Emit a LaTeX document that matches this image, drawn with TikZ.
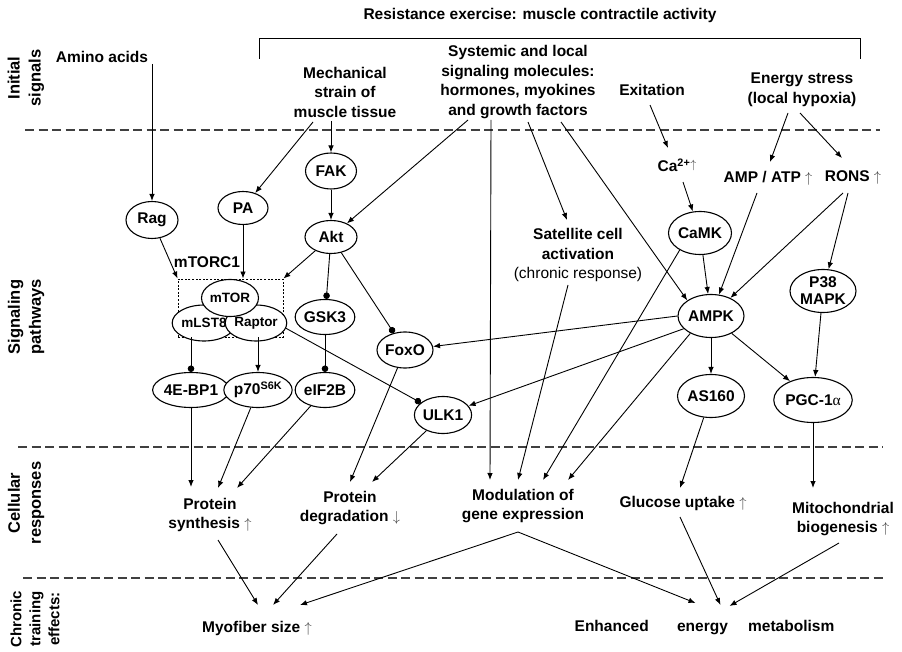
\documentclass[tikz,border=0pt]{standalone}
\usepackage{fontspec}
\setmainfont{Liberation Sans}
\newfontfamily\grfont{Liberation Serif}
\usetikzlibrary{shapes.geometric,arrows.meta,calc}

% thin up/down arrows used after the bold labels
\newcommand\upar{{\color{black!75}$\uparrow$}}
\newcommand\downar{{\color{black!75}$\downarrow$}}

\begin{document}
\begin{tikzpicture}[x=1pt,y=-1pt,
  txt/.style={font=\bfseries\fontsize{15.5}{19.5}\selectfont, align=center, inner sep=1pt},
  side/.style={font=\bfseries\fontsize{16.5}{21}\selectfont, align=center, inner sep=1pt, rotate=90},
  oval/.style={ellipse, draw, line width=1.1pt, inner sep=0pt, fill=white,
    font=\bfseries\fontsize{15.5}{17}\selectfont, align=center},
  small/.style={font=\bfseries\fontsize{13.5}{16}\selectfont},
  sz/.style 2 args={minimum width=#1pt, minimum height=#2pt},
  arr/.style={-{Latex[length=7pt,width=5.5pt]}, line width=0.9pt},
  inh/.style={-{Circle[length=6.5pt]}, line width=0.9pt},
  sep/.style={dash pattern=on 9pt off 4.5pt, line width=1.1pt, black!75}]

\useasboundingbox (0,0) rectangle (902,652);

% level separators
\draw[sep] (25,130) -- (880,130);
\draw[sep] (18,447) -- (883,447);
\draw[sep] (23,578) -- (883,578);

% level labels
\node[side] (l1) at (26,78) {Initial\\signals};
\node[side] (l2) at (26,317) {Signaling\\pathways};
\node[side] (l3) at (26,503) {Cellular\\responses};
\node[side, font=\bfseries\fontsize{15}{19}\selectfont] (l4) at (35,619) {Chronic\\training\\effects:};

% exercise bracket
\node[txt] (title) at (540,15) {Resistance exercise: muscle contractile activity};
\draw[line width=0.9pt] (259,59) -- (259,38) -- (860,38) -- (860,59);

% initial signals
\node[txt] (amino) at (102,57) {Amino acids};
\node[txt] (mech) at (345,92) {Mechanical\\strain of\\muscle tissue};
\node[txt] (sys) at (518,82) {Systemic and local\\signaling molecules:\\hormones, myokines\\and growth factors};
\node[txt] (exc) at (652,90) {Exitation};
\node[txt] (energy) at (802,90) {Energy stress\\(local hypoxia)};

% signaling pathways
\node[txt] (ca) at (677,165) {Ca\textsuperscript{2+}\raisebox{3pt}{\fontsize{12}{12}\selectfont\upar}};
\node[txt] (ampatp) at (768,178) {AMP / ATP \upar};
\node[txt] (rons) at (853,177) {RONS \upar};
\node[txt] (sat) at (578,255) {Satellite cell\\activation\\\mdseries(chronic response)};

\node[oval, sz={52}{37}] (rag) at (152,220) {Rag};
\node[oval, sz={50}{33}] (pa) at (243,208) {PA};
\node[oval, sz={51}{36}] (fak) at (331,171) {FAK};
\node[oval, sz={52}{33}] (akt) at (331,237) {Akt};

% mTORC1 complex
\node[txt] (mtorc) at (207,262) {mTORC1};
\node[draw, line width=0.9pt, dash pattern=on 2pt off 1.6pt, inner sep=0pt,
  minimum width=105pt, minimum height=58pt] (cplx) at (230.5,308) {};
\node[oval, small, sz={54}{36}] (mlst) at (204,323) {mLST8};
\node[oval, small, sz={54}{36}] (raptor) at (256,323) {Raptor};
\node[oval, small, sz={57}{37}] (mtor) at (230,298) {mTOR};

\node[oval, sz={51}{35}] (gsk) at (325,317) {GSK3};
\node[oval, sz={57}{35}] (bp1) at (191,390) {4E-BP1};
\node[oval, sz={48}{35}] (p70) at (258,390) {p70\textsuperscript{S6K}};
\node[oval, sz={50}{35}] (eif) at (325,390) {eIF2B};
\node[oval, sz={50}{36}] (foxo) at (405,350) {FoxO};
\node[oval, sz={50}{37}] (ulk) at (443,415) {ULK1};

\node[oval, sz={63}{43}] (camk) at (700,233) {CaMK};
\node[oval, sz={66}{43}] (ampk) at (711,316) {AMPK};
\node[oval, sz={66}{43}] (p38) at (823,291) {P38\\MAPK};
\node[oval, sz={66}{43}] (as160) at (711,396) {AS160};
\node[oval, sz={67}{45}] (pgc) at (813,400) {PGC-1{\grfont\mdseries α}};

% cellular responses
\node[txt] (psyn) at (210,515) {Protein\\synthesis \upar};
\node[txt] (pdeg) at (350,508) {Protein\\degradation \downar};
\node[txt] (gene) at (523,506) {Modulation of\\gene expression};
\node[txt] (gluc) at (683,503) {Glucose uptake \upar};
\node[txt] (mito) at (843,519) {Mitochondrial\\biogenesis \upar};

% chronic training effects
\node[txt] (myo) at (257,628) {Myofiber size \upar};
\node[txt] (enh) at (704.5,628) {Enhanced\hspace{24pt} energy\hspace{16pt} metabolism};

% connectors: initial signals
\draw[arr] (rag |- amino.south) -- (rag);
\draw[arr] ($(mech)+(-32,30)$) -- (pa);
\draw[arr] ($(mech)+(-14,29)$) -- (fak);
\draw[arr] ($(sys)+(-50,38)$) -- (akt);
\draw[arr] ($(sys)+(-27,38)$) -- ($(gene)+(-33,-26)$);
\draw[arr] ($(sys)+(10,40)$) -- ($(sat)+(-11,-35)$);
\draw[arr] ($(sys)+(43,40)$) -- (ampk.north west);
\draw[arr] ($(exc)+(-2,15)$) -- ($(ca)+(-9,-17)$);
\draw[arr] ($(energy)+(-14,23)$) -- ($(ampatp)+(2,-16)$);
\draw[arr] ($(energy)+(-2,23)$) -- ($(rons)+(-11,-19)$);

% connectors: mTOR branch
\draw[arr] (fak) -- (akt);
\draw[arr] (rag) -- (cplx.north west);
\draw[arr] (pa) -- (pa |- cplx.north);
\draw[arr] (akt) -- (cplx.north east);
\draw[inh] (bp1 |- cplx.south) -- (bp1);
\draw[arr] (p70 |- cplx.south) -- (p70);
\draw[inh] (akt) -- (gsk);
\draw[inh] (gsk) -- (eif);
\draw[inh] (akt) -- (foxo);
\draw[inh] (raptor.-10) -- (ulk);
\draw[arr] (bp1) -- ($(psyn)+(-19,-28)$);
\draw[arr] (p70) -- ($(psyn)+(8,-27)$);
\draw[arr] (eif) -- ($(psyn)+(27,-27)$);
\draw[arr] (foxo) -- ($(pdeg)+(0,-26)$);
\draw[arr] (ulk) -- ($(pdeg)+(22,-26)$);

% connectors: AMPK branch
\draw[arr] ($(ca)+(6,17)$) -- (camk);
\draw[arr] ($(ampatp)+(-11,15)$) -- (ampk);
\draw[arr] ($(rons)+(-10,16)$) -- (ampk);
\draw[arr] ($(rons)+(-5,16)$) -- (p38);
\draw[arr] (camk) -- (ampk);
\draw[arr] (camk.-140) -- ($(gene)+(20,-26)$);
\draw[arr] (ampk.west) -- (foxo);
\draw[arr] (ampk.-155) -- (ulk);
\draw[arr] (ampk.-140) -- ($(gene)+(45,-26)$);
\draw[arr] (ampk) -- (as160);
\draw[arr] (ampk.-40) -- (pgc);
\draw[arr] (p38) -- (pgc);
\draw[arr] (as160) -- ($(gluc)+(-3,-15)$);
\draw[arr] (pgc) -- ($(mito)+(-30,-31)$);
\draw[arr] ($(sat)+(-10,30)$) -- ($(gene)+(-5,-26)$);

% connectors: chronic effects
\draw[arr] ($(psyn)+(8,25)$) -- ($(myo)+(1,-23)$);
\draw[arr] ($(pdeg)+(-13,26)$) -- ($(myo)+(16,-23)$);
\draw[arr] ($(gene)+(-5,26)$) -- ($(myo)+(43,-23)$);
\draw[arr] ($(gene)+(-5,26)$) -- ($(enh)+(-9,-25)$);
\draw[arr] ($(gluc)+(-3,14)$) -- ($(enh)+(16,-23)$);
\draw[arr] ($(mito)+(-4,24)$) -- ($(enh)+(25,-22)$);
\end{tikzpicture}
\end{document}
